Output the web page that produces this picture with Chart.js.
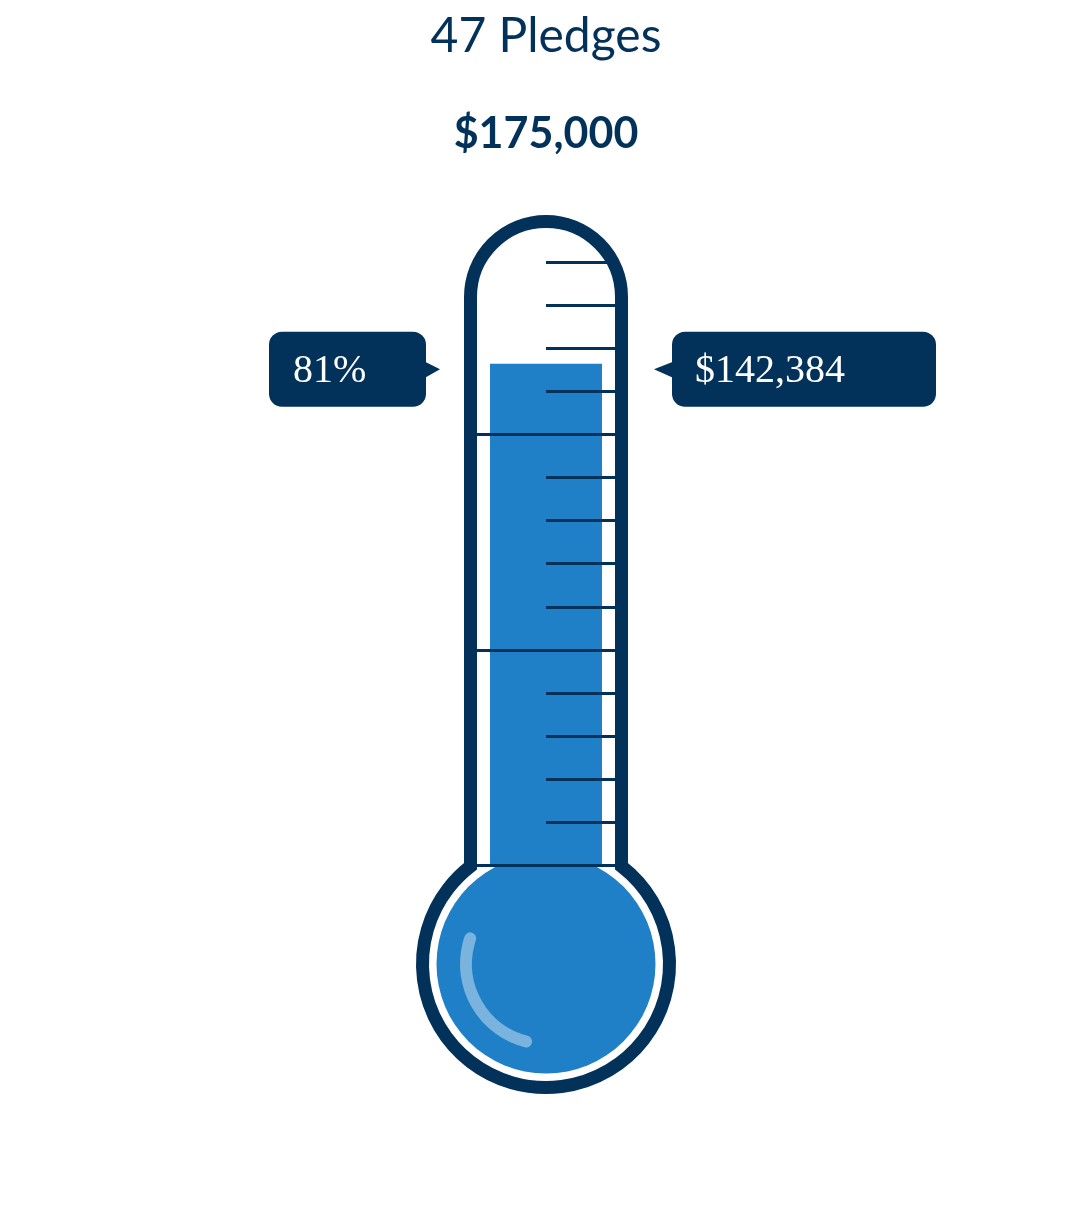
<!DOCTYPE html>
<html>
<head>
<meta charset="utf-8">
<script src="https://cdn.jsdelivr.net/npm/chart.js@4"></script>
<style>
  html, body { margin: 0; padding: 0; background: #ffffff; }
  canvas { display: block; }
</style>
</head>
<body>
<canvas id="c" width="1092" height="1226"></canvas>
<script>
// ---- data ----
const CATEGORIES = ['Raised'];
const RAISED = [142384];
const GOAL = 175000;
const PLEDGES = 47;
const TICK_COUNT = 14;      // graduation marks on the tube
const MAJOR_EVERY = 5;      // every 5th mark spans the whole tube

// ---- style ----
const NAVY = '#02315a';
const BLUE = '#1f7fc7';
const HIGHLIGHT = '#7ab3de';
const TICK_SCALE_MAX = 14.3;

const fmtMoney = v => '$' + v.toLocaleString('en-US');

function roundRectPath(ctx, x, y, w, h, r) {
  ctx.beginPath();
  ctx.moveTo(x + r, y);
  ctx.lineTo(x + w - r, y);
  ctx.arcTo(x + w, y, x + w, y + r, r);
  ctx.lineTo(x + w, y + h - r);
  ctx.arcTo(x + w, y + h, x + w - r, y + h, r);
  ctx.lineTo(x + r, y + h);
  ctx.arcTo(x, y + h, x, y + h - r, r);
  ctx.lineTo(x, y + r);
  ctx.arcTo(x, y, x + r, y, r);
  ctx.closePath();
}

const thermometer = {
  id: 'thermometer',
  beforeDatasetsDraw(chart) {
    const { ctx, chartArea: a } = chart;
    const cx = (a.left + a.right) / 2;
    const by = a.bottom + 99;
    ctx.save();
    ctx.fillStyle = BLUE;
    ctx.beginPath();
    ctx.arc(cx, by, 109.5, 0, Math.PI * 2);
    ctx.fill();
    ctx.restore();
  },
  afterDatasetsDraw(chart) {
    const { ctx, chartArea: a } = chart;
    const yS = chart.scales.y;
    const tS = chart.scales.y2;
    const cx = (a.left + a.right) / 2;
    const by = a.bottom + 99;
    ctx.save();

    // graduation marks
    ctx.strokeStyle = NAVY;
    ctx.lineWidth = 3;
    for (let i = 0; i <= TICK_COUNT; i++) {
      const y = Math.round(tS.getPixelForValue(i)) + 0.5;
      const major = i % MAJOR_EVERY === 0;
      ctx.beginPath();
      ctx.moveTo(major ? a.left : cx, y);
      ctx.lineTo(a.right, y);
      ctx.stroke();
    }

    // outline: tube + bulb
    const lw = 13;
    const xl = a.left - lw / 2, xr = a.right + lw / 2;
    const tr = (xr - xl) / 2;
    const topCy = 297;
    const R = 123.5;
    const ang = Math.acos((cx - xl) / R);
    ctx.lineWidth = lw;
    ctx.lineJoin = 'miter';
    ctx.beginPath();
    ctx.arc(cx, by, R, -ang, Math.PI + ang, false);
    ctx.lineTo(xl, topCy);
    ctx.arc(cx, topCy, tr, Math.PI, Math.PI * 2, false);
    ctx.closePath();
    ctx.stroke();

    // glass highlight
    ctx.strokeStyle = HIGHLIGHT;
    ctx.lineWidth = 12;
    ctx.lineCap = 'round';
    ctx.beginPath();
    ctx.arc(cx, by, 80, 104.4 * Math.PI / 180, 198.7 * Math.PI / 180, false);
    ctx.stroke();

    // callouts
    const val = RAISED[0];
    const cy = yS.getPixelForValue(val) + 5.5;
    const bh = 75, bt = cy - bh / 2;
    ctx.fillStyle = NAVY;
    // left box
    const lbR = a.left - lw - 38, lbL = 269;
    roundRectPath(ctx, lbL, bt, lbR - lbL, bh, 13);
    ctx.fill();
    ctx.beginPath();
    ctx.moveTo(lbR - 1, cy - 7.5);
    ctx.lineTo(lbR + 14, cy);
    ctx.lineTo(lbR - 1, cy + 8.5);
    ctx.closePath();
    ctx.fill();
    // right box
    const rbL = a.right + lw + 44, rbR = 936;
    roundRectPath(ctx, rbL, bt, rbR - rbL, bh, 13);
    ctx.fill();
    ctx.beginPath();
    ctx.moveTo(rbL + 1, cy - 7.5);
    ctx.lineTo(rbL - 18, cy);
    ctx.lineTo(rbL + 1, cy + 8.5);
    ctx.closePath();
    ctx.fill();

    ctx.fillStyle = '#ffffff';
    ctx.font = '40px "Liberation Serif", "Times New Roman", serif';
    ctx.textAlign = 'left';
    ctx.textBaseline = 'alphabetic';
    const pct = Math.round(val / GOAL * 100) + '%';
    ctx.fillText(pct, lbL + 24, cy + 12.5);
    ctx.fillText(fmtMoney(val), rbL + 23, cy + 12.5);

    // titles
    ctx.fillStyle = NAVY;
    ctx.textAlign = 'center';
    ctx.font = '48px Lato, "Noto Sans", sans-serif';
    ctx.fillText(PLEDGES + ' Pledges', cx, 52);
    ctx.font = 'bold 43px Lato, "Noto Sans", sans-serif';
    ctx.fillText(fmtMoney(GOAL), cx, 148);

    ctx.restore();
  }
};

new Chart(document.getElementById('c'), {
  type: 'bar',
  data: {
    labels: CATEGORIES,
    datasets: [{
      data: RAISED,
      backgroundColor: BLUE,
      borderWidth: 0,
      categoryPercentage: 1,
      barPercentage: 112 / 138
    }]
  },
  options: {
    responsive: false,
    animation: false,
    devicePixelRatio: 1,
    layout: { padding: { left: 477, right: 477, top: 249, bottom: 361 } },
    plugins: { legend: { display: false }, tooltip: { enabled: false }, title: { display: false } },
    scales: {
      x: { display: false },
      y: { display: false, min: 0, max: GOAL },
      y2: { display: false, position: 'left', min: 0, max: TICK_SCALE_MAX, ticks: { stepSize: 1, includeBounds: false } }
    }
  },
  plugins: [thermometer]
});
</script>
</body>
</html>
